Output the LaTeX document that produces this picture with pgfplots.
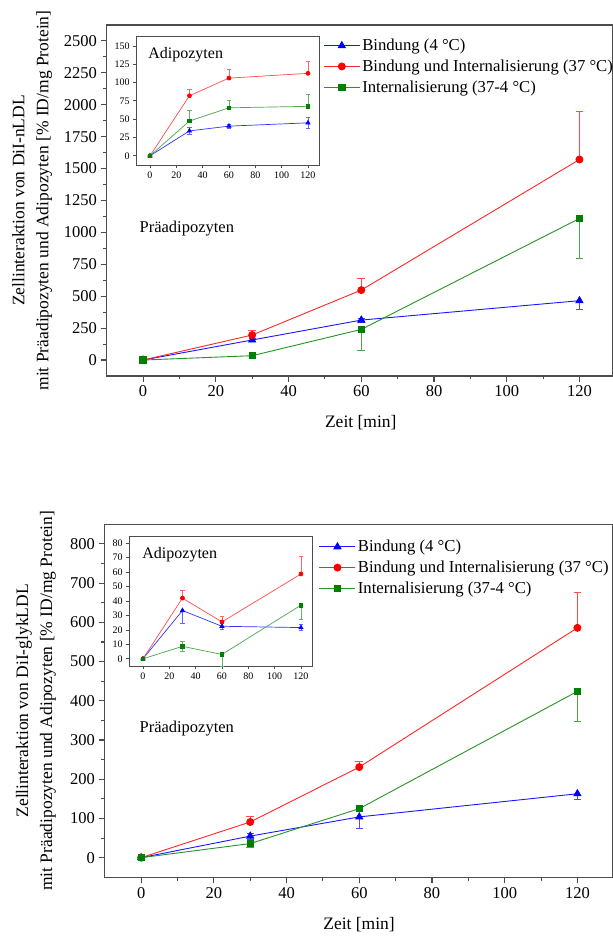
\documentclass[border=0pt]{standalone}
\usepackage{fontspec}
\setmainfont{Liberation Serif}
\usepackage{pgfplots}
\pgfplotsset{compat=1.18}
\definecolor{cb}{RGB}{0,0,255}
\definecolor{cr}{RGB}{255,0,0}
\definecolor{cg}{RGB}{0,128,0}
\pgfplotsset{
  common/.style={scale only axis, xmin=-10, tick align=outside, xtick pos=bottom, ytick pos=left,
    axis line style={draw=black!70}, every tick/.style={black!70},
    /pgf/number format/assume math mode=true, /pgf/number format/1000 sep={}, scaled ticks=false,
    xtick={0,20,...,120}, clip=false},
  mainax/.style={common, xmax=129, line width=1.1pt, major tick length=6pt, minor tick length=3.5pt,
    minor x tick num=1, minor y tick num=1,
    tick label style={font=\fontsize{16.5}{18}\selectfont},
    label style={font=\fontsize{17.5}{24}\selectfont, align=center},
    legend cell align=left,
    legend style={draw=none, fill=none, anchor=north west, inner sep=0pt, row sep=3.7pt,
      font=\fontsize{16.7}{19}\selectfont},
    legend image code/.code={\draw[mark repeat=2,mark phase=2] plot coordinates {(0pt,0pt)(18pt,0pt)(36pt,0pt)};}},
  insetax/.style={common, xmax=129, line width=0.7pt, major tick length=3.5pt,
    axis background/.style={fill=white},
    tick label style={font=\fontsize{10}{11}\selectfont}},
  pb/.style={cb!90, line width=0.9pt, mark=triangle*, mark size=4pt, mark options={solid, cb}},
  pr/.style={cr!85, line width=0.9pt, mark=*, mark size=3.5pt, mark options={solid, cr}},
  pg/.style={cg!85, line width=0.9pt, mark=square*, mark size=3.2pt, mark options={solid, cg}},
  ib/.style={cb!80, line width=0.7pt, mark=triangle*, mark size=2.4pt, mark options={cb}},
  ir/.style={cr!70, line width=0.7pt, mark=*, mark size=2pt, mark options={cr}},
  ig/.style={cg!70, line width=0.7pt, mark=square*, mark size=1.8pt, mark options={cg}},
}
% error bar: color, cap half-width, x, y, y end
\newcommand{\ebar}[5]{\addplot[#1, forget plot, line width=0.6pt, mark=-, mark size=#2, mark indices={2}, mark options={solid}] coordinates {(#3,#4) (#3,#5)};}
\begin{document}
\begin{tikzpicture}
\path[use as bounding box] (0pt,0pt) rectangle (613pt,937pt);
% ---------------- top main ----------------
\begin{axis}[mainax, at={(106.7pt,561pt)}, anchor=south west, width=505.5pt, height=351pt,
  ymin=-125, ymax=2625, ytick={0,250,...,2500},
  xlabel={Zeit [min]}, ylabel={Zellinteraktion von DiI-nLDL\\mit Präadipozyten und Adipozyten [\% ID/mg Protein]},
  xlabel style={at={(axis description cs:0.5026,-0.134)}, anchor=center},
  ylabel style={at={(axis description cs:-0.1476,0.5)}, anchor=center},
  legend style={at={(axis description cs:0.4275,0.967)}}]
\ebar{cb!70}{3.5pt}{0}{0}{15}
\ebar{cb!70}{3.5pt}{30}{157}{167}
\ebar{cb!70}{3.5pt}{30}{157}{147}
\ebar{cb!70}{3.5pt}{60}{313}{328}
\ebar{cb!70}{3.5pt}{60}{313}{298}
\ebar{cb!70}{3.5pt}{120}{465}{395}
\ebar{cr!70}{3.8pt}{30}{196}{236}
\ebar{cr!70}{3.8pt}{60}{548}{639}
\ebar{cr!70}{3.8pt}{120}{1571}{1952}
\ebar{cg!70}{3.8pt}{60}{240}{78}
\ebar{cg!70}{3.8pt}{120}{1109}{796}
\addplot[pb] coordinates {(0,0) (30,157) (60,313) (120,465)};
\addlegendentry{Bindung (4 °C)}
\addplot[pr] coordinates {(0,0) (30,196) (60,548) (120,1571)};
\addlegendentry{Bindung und Internalisierung (37 °C)}
\addplot[pg] coordinates {(0,0) (30,34) (60,240) (120,1109)};
\addlegendentry{Internalisierung (37-4 °C)}
\node[anchor=west, font=\fontsize{16.5}{18}\selectfont] at (axis cs:-2,1034) {Präadipozyten};
\end{axis}
% ---------------- top inset ----------------
\begin{axis}[insetax, at={(136.8pt,772pt)}, anchor=south west, width=183pt, height=128.3pt,
  ymin=-12.5, ymax=162.5, ytick={0,25,...,150}]
\ebar{cb!60}{2.2pt}{30}{34}{39}
\ebar{cb!60}{2.2pt}{30}{34}{29}
\ebar{cb!60}{2.2pt}{60}{40.5}{43.5}
\ebar{cb!60}{2.2pt}{60}{40.5}{37.5}
\ebar{cb!60}{2.2pt}{120}{45}{53}
\ebar{cb!60}{2.2pt}{120}{45}{37}
\ebar{cr!60}{2.2pt}{30}{82}{91}
\ebar{cr!60}{2.2pt}{60}{106}{118}
\ebar{cr!60}{2.2pt}{120}{112.5}{129}
\ebar{cg!60}{2.2pt}{30}{47.5}{61.5}
\ebar{cg!60}{2.2pt}{60}{65.5}{76}
\ebar{cg!60}{2.2pt}{120}{67.5}{84.5}
\addplot[ib] coordinates {(0,0) (30,34) (60,40.5) (120,45)};
\addplot[ir] coordinates {(0,0) (30,82) (60,106) (120,112.5)};
\addplot[ig] coordinates {(0,0) (30,47.5) (60,65.5) (120,67.5)};
\node[anchor=west, font=\fontsize{16}{18}\selectfont] at (axis cs:-4,138) {Adipozyten};
\end{axis}
% ---------------- bottom main ----------------
\begin{axis}[mainax, at={(104.8pt,59.7pt)}, anchor=south west, width=507.5pt, height=353pt,
  xmax=129.6, ymin=-50, ymax=850, ytick={0,100,...,800},
  xlabel={Zeit [min]}, ylabel={Zellinteraktion von DiI-glykLDL\\mit Präadipozyten und Adipozyten [\% ID/mg Protein]},
  xlabel style={at={(axis description cs:0.501,-0.135)}, anchor=center},
  ylabel style={at={(axis description cs:-0.1356,0.5)}, anchor=center},
  legend style={at={(axis description cs:0.421,0.962)}}]
\ebar{cb!70}{3.5pt}{0}{0}{4}
\ebar{cb!70}{3.5pt}{30}{55}{63}
\ebar{cb!70}{3.5pt}{30}{55}{47}
\ebar{cb!70}{3.5pt}{60}{104}{74}
\ebar{cb!70}{3.5pt}{120}{163}{148}
\ebar{cr!70}{3.8pt}{30}{91}{106}
\ebar{cr!70}{3.8pt}{60}{231}{245}
\ebar{cr!70}{3.8pt}{120}{586}{677}
\ebar{cg!70}{3.8pt}{30}{36}{26}
\ebar{cg!70}{3.8pt}{120}{424}{348}
\addplot[pb] coordinates {(0,0) (30,55) (60,104) (120,163)};
\addlegendentry{Bindung (4 °C)}
\addplot[pr] coordinates {(0,0) (30,91) (60,231) (120,586)};
\addlegendentry{Bindung und Internalisierung (37 °C)}
\addplot[pg] coordinates {(0,0) (30,36) (60,125) (120,424)};
\addlegendentry{Internalisierung (37-4 °C)}
\node[anchor=west, font=\fontsize{16.5}{18}\selectfont] at (axis cs:-1.5,330) {Präadipozyten};
\end{axis}
% ---------------- bottom inset ----------------
\begin{axis}[insetax, at={(129.8pt,271pt)}, anchor=south west, width=183pt, height=130pt,
  ymin=-5, ymax=85, ytick={0,10,...,80}]
\ebar{cb!60}{2.2pt}{30}{33.4}{24.4}
\ebar{cb!60}{2.2pt}{60}{22.5}{24.5}
\ebar{cb!60}{2.2pt}{60}{22.5}{20.5}
\ebar{cb!60}{2.2pt}{120}{21.6}{23.6}
\ebar{cb!60}{2.2pt}{120}{21.6}{19.6}
\ebar{cr!60}{2.2pt}{30}{42}{47.3}
\ebar{cr!60}{2.2pt}{60}{25.5}{29.5}
\ebar{cr!60}{2.2pt}{120}{58.7}{71.2}
\ebar{cg!60}{2.2pt}{30}{8.6}{12.1}
\ebar{cg!60}{2.2pt}{30}{8.6}{5.1}
\ebar{cg!60}{2.2pt}{60}{3}{-5}
\ebar{cg!60}{2.2pt}{120}{37.1}{27.1}
\addplot[ib] coordinates {(0,0) (30,33.4) (60,22.5) (120,21.6)};
\addplot[ir] coordinates {(0,0) (30,42) (60,25.5) (120,58.7)};
\addplot[ig] coordinates {(0,0) (30,8.6) (60,3) (120,37.1)};
\node[anchor=west, font=\fontsize{16}{18}\selectfont] at (axis cs:-3.2,72) {Adipozyten};
\end{axis}
\end{tikzpicture}
\end{document}
